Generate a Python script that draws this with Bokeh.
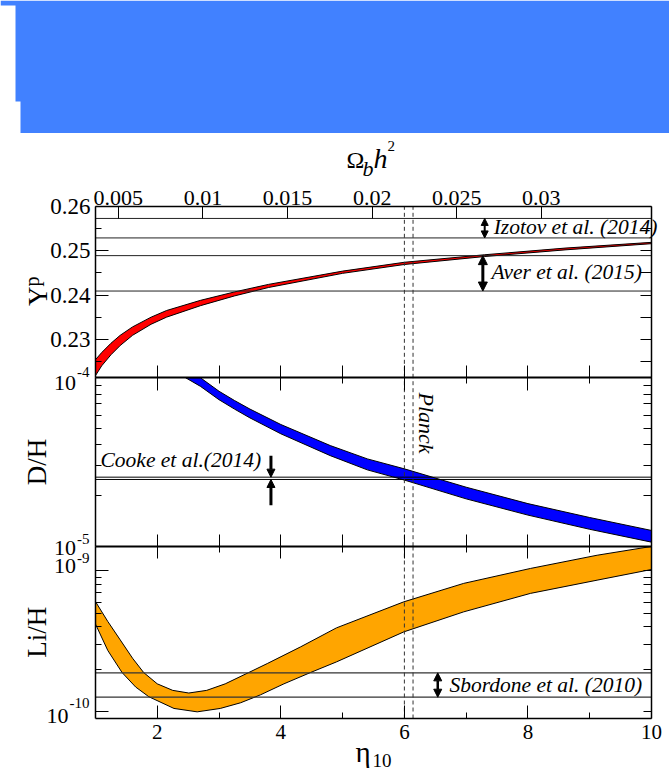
import math

from bokeh.embed import file_html
from bokeh.layouts import column
from bokeh.models import (Arrow, CustomJSTickFormatter, FixedTicker, Label, LinearAxis,
                          LogAxis, LogScale, NormalHead, Range1d)
from bokeh.plotting import figure
from bokeh.resources import INLINE

FONT = "'Liberation Serif', serif"

# ---------------------------------------------------------------- axes / ticks
eta_ticks = [2, 4, 6, 8, 10]
eta_minor = [3, 5, 7, 9]
omega_ticks = [0.005, 0.01, 0.015, 0.02, 0.025, 0.03]
ETA_PER_OMEGA = 273.9          # eta_10 = 273.9 * Omega_b h^2

yp_ticks = [0.23, 0.24, 0.25, 0.26]
yp_minor = [0.225, 0.235, 0.245, 0.255]
dh_ticks = [1e-5, 1e-4]
dh_minor = [2e-5, 3e-5, 4e-5, 5e-5, 6e-5, 7e-5, 8e-5, 9e-5]
li_ticks = [1e-10, 1e-9]
li_minor = [2e-10, 3e-10, 4e-10, 5e-10, 6e-10, 7e-10, 8e-10, 9e-10]

# value range shown by each panel
ETA_SPAN = (1, 10)
YP_PANEL = (0.2213, 0.26)
DH_PANEL = (1e-5, 1e-4)
LI_PANEL = (8.97e-11, 1.496e-9)

# ---------------------------------------------------------------- BBN bands
# He-4 mass fraction
yp_eta = [1.0, 1.1, 1.25, 1.4, 1.6, 1.9, 2.15, 2.7, 3.25, 3.8, 5.0, 6.0, 7.3, 8.6, 10.0]
yp_hi = [0.2254, 0.2270, 0.2291, 0.2309, 0.2328, 0.2350, 0.2365, 0.2388, 0.2407,
         0.2424, 0.2454, 0.2474, 0.2491, 0.2506, 0.2519]
yp_lo = [0.2218, 0.2240, 0.2265, 0.2286, 0.2309, 0.2334, 0.2350, 0.2376, 0.2398,
         0.2417, 0.2449, 0.2469, 0.2487, 0.2502, 0.2516]

# D/H in units of 1e-5
dh_eta_hi = [2.70, 3.0, 3.25, 3.5, 4.0, 4.8, 5.4, 6.0, 7.0, 8.0, 9.0, 10.0]
dh_hi = [10.0, 8.32, 7.33, 6.52, 5.28, 3.96, 3.30, 2.88, 2.24, 1.79, 1.48, 1.24]
dh_eta_lo = [2.46, 2.7, 3.0, 3.25, 3.5, 4.0, 4.8, 5.4, 6.0, 7.0, 8.0, 9.0, 10.0]
dh_lo = [10.0, 8.89, 7.41, 6.52, 5.78, 4.65, 3.45, 2.84, 2.47, 1.91, 1.53, 1.26, 1.057]

# Li-7/H in units of 1e-10
li_eta_hi = [1.0, 1.2, 1.4, 1.6, 1.78, 2.0, 2.25, 2.51, 2.8, 3.1, 3.48, 3.78, 4.32,
             4.9, 5.99, 6.96, 8.04, 9.12, 10.0]
li_hi = [6.05, 4.37, 3.24, 2.40, 1.90, 1.58, 1.42, 1.36, 1.42, 1.58, 1.90, 2.20, 2.89,
         3.94, 6.03, 8.15, 10.40, 12.91, 14.9]
li_eta_lo = [1.0, 1.2, 1.43, 1.65, 1.863, 2.27, 2.646, 3.02, 3.35, 3.67, 4.05, 4.48,
             4.9, 5.99, 6.96, 8.04, 9.12, 10.0]
li_lo = [4.19, 2.72, 1.90, 1.50, 1.28, 1.057, 1.00, 1.057, 1.16, 1.32, 1.58, 1.90,
         2.26, 3.69, 5.12, 6.92, 8.59, 10.23]

# ---------------------------------------------------------------- observations
izotov_yp = [0.2529, 0.2573]
aver_yp = [0.2409, 0.2489]
cooke_dh = [2.49e-5, 2.57e-5]
sbordone_li = [1.27e-10, 1.89e-10]
planck_eta = [6.00, 6.14]

# where the measurement arrows sit along eta
IZOTOV_X, AVER_X, COOKE_X, SBORDONE_X = 7.30, 7.27, 3.84, 6.54
COOKE_FROM = (3.45e-5, 1.75e-5)

# banner shape above the chart (pixel outline)
hdr_x = [0, 669, 669, 20, 20, 15, 15, 0]
hdr_y = [0, 0, 133, 133, 101, 101, 5, 5]

# ---------------------------------------------------------------- layout (pixels)
W, H = 669, 644
BOX_LEFT, BOX_RIGHT = 95, 18           # margins around the stacked panels
BOX_TOP, BOX_BOTTOM = 73, 59
PANEL_PX = (171.3, 168.4, 172.3)       # top, middle, bottom panel heights


def stretch(lo, hi, before, after, total, log=False):
    """Range over the whole canvas so that [lo, hi] covers the given pixel span."""
    a, b = (math.log10(lo), math.log10(hi)) if log else (lo, hi)
    u = (b - a) / (total - before - after)
    s, e = a - before * u, b + after * u
    return Range1d(10 ** s, 10 ** e) if log else Range1d(s, e)


top_px, mid_px, bot_px = PANEL_PX

hdr = figure(width=W, height=133, x_range=Range1d(0, W), y_range=Range1d(133, 0),
             x_axis_location=None, y_axis_location=None, min_border=0,
             output_backend="svg", toolbar_location=None)
hdr.grid.visible = False
hdr.outline_line_color = None
hdr.patch(hdr_x, hdr_y, fill_color="#4181ff", line_color=None)

p = figure(width=W, height=H, min_border=0,
           x_range=stretch(*ETA_SPAN, BOX_LEFT, BOX_RIGHT, W),
           y_range=stretch(*YP_PANEL, BOX_BOTTOM + bot_px + mid_px, BOX_TOP, H),
           x_axis_location=None, y_axis_location=None,
           output_backend="svg", toolbar_location=None)
p.extra_x_ranges = {"omega": stretch(ETA_SPAN[0] / ETA_PER_OMEGA, ETA_SPAN[1] / ETA_PER_OMEGA,
                                     BOX_LEFT, BOX_RIGHT, W)}
p.extra_y_ranges = {
    "dh": stretch(*DH_PANEL, BOX_BOTTOM + bot_px, BOX_TOP + top_px, H, log=True),
    "li": stretch(*LI_PANEL, BOX_BOTTOM, BOX_TOP + top_px + mid_px, H, log=True),
}
p.extra_y_scales = {"dh": LogScale(), "li": LogScale()}
p.grid.visible = False
p.outline_line_color = None
p.background_fill_color = "white"
p.border_fill_color = "white"

plain = CustomJSTickFormatter(code="return tick.toString()")
OMEGA_SPAN = (ETA_SPAN[0] / ETA_PER_OMEGA, ETA_SPAN[1] / ETA_PER_OMEGA)


def axis(cls, side, ticks, minor, t_in, t_out, m_in, m_out, bounds, loc,
         labels=None, width=1.5, **kw):
    ax = cls(ticker=FixedTicker(ticks=ticks, minor_ticks=minor), bounds=bounds,
             fixed_location=loc,
             major_tick_in=t_in, major_tick_out=t_out,
             minor_tick_in=m_in, minor_tick_out=m_out,
             major_tick_line_color="black", minor_tick_line_color="black",
             major_tick_line_width=1, minor_tick_line_width=1,
             axis_line_color="black", axis_line_width=width, **kw)
    if labels:
        size, standoff = labels
        ax.major_label_text_font = FONT
        ax.major_label_text_font_size = size
        ax.major_label_standoff = standoff
        ax.major_label_text_color = "black"
    else:
        ax.major_label_text_color = None
        ax.major_label_standoff = 0
    p.add_layout(ax, side)
    return ax


# outer box: bottom eta axis, top Omega_b h^2 axis, left/right of each panel
axis(LinearAxis, "below", eta_ticks, eta_minor, 13, 0, 6, 0, ETA_SPAN, LI_PANEL[0],
     labels=("21px", 6), y_range_name="li")
axis(LinearAxis, "above", omega_ticks, [], 12, 0, 0, 0, OMEGA_SPAN, YP_PANEL[1],
     labels=("22px", 2), x_range_name="omega", formatter=plain)
axis(LinearAxis, "left", yp_ticks, yp_minor, 13, 0, 6, 0, YP_PANEL, ETA_SPAN[0],
     labels=("23px", 5), formatter=plain)
axis(LinearAxis, "right", yp_ticks, yp_minor, 11, 0, 11, 0, YP_PANEL, ETA_SPAN[1])
axis(LogAxis, "left", dh_ticks, dh_minor, 13, 0, 6, 0, DH_PANEL, ETA_SPAN[0], y_range_name="dh")
axis(LogAxis, "right", dh_ticks, dh_minor, 8, 0, 8, 0, DH_PANEL, ETA_SPAN[1], y_range_name="dh")
axis(LogAxis, "left", li_ticks, li_minor, 13, 0, 6, 0, LI_PANEL, ETA_SPAN[0], y_range_name="li")
axis(LogAxis, "right", li_ticks, li_minor, 8, 0, 8, 0, LI_PANEL, ETA_SPAN[1], y_range_name="li")
# borders between panels, ticked on both sides
axis(LinearAxis, "below", eta_ticks, eta_minor, 12, 13, 12, 6, ETA_SPAN, DH_PANEL[1],
     width=2, y_range_name="dh")
axis(LinearAxis, "below", eta_ticks, eta_minor, 12, 12, 12, 6, ETA_SPAN, DH_PANEL[0],
     width=2, y_range_name="dh")

# bands
p.patch(yp_eta + yp_eta[::-1], yp_hi + yp_lo[::-1],
        fill_color="#ff0000", line_color="black", line_width=1)
p.patch(dh_eta_hi + dh_eta_lo[::-1], [v * 1e-5 for v in dh_hi + dh_lo[::-1]],
        fill_color="#0000ff", line_color="black", line_width=1, y_range_name="dh")
p.patch(li_eta_hi + li_eta_lo[::-1], [v * 1e-10 for v in li_hi + li_lo[::-1]],
        fill_color="#ffa500", line_color="black", line_width=1, y_range_name="li")

# observational bounds, across the full eta span
p.segment(x0=ETA_SPAN[0], x1=ETA_SPAN[1], y0=izotov_yp + aver_yp, y1=izotov_yp + aver_yp,
          line_color="#222222", line_width=1)
p.segment(x0=ETA_SPAN[0], x1=ETA_SPAN[1], y0=cooke_dh, y1=cooke_dh,
          line_color="black", line_width=1, y_range_name="dh")
p.segment(x0=ETA_SPAN[0], x1=ETA_SPAN[1], y0=sbordone_li, y1=sbordone_li,
          line_color="#333333", line_width=1.2, y_range_name="li")
# Planck band edges, through all three panels
for lo_hi, rng in [(YP_PANEL, "default"), (DH_PANEL, "dh"), (LI_PANEL, "li")]:
    p.segment(x0=planck_eta, x1=planck_eta, y0=lo_hi[0], y1=lo_hi[1],
              line_color="#333333", line_width=1, line_dash="4 3", y_range_name=rng)


def head(size):
    return NormalHead(size=size, fill_color="black", line_color="black", line_width=1)


def arrow(x, y0, y1, width, size, both=True, rng="default"):
    p.add_layout(Arrow(x_start=x, y_start=y0, x_end=x, y_end=y1,
                       start=head(size) if both else None, end=head(size),
                       line_color="black", line_width=width, y_range_name=rng))


arrow(IZOTOV_X, izotov_yp[0], izotov_yp[1], 2, 7)
arrow(AVER_X, aver_yp[0], aver_yp[1], 3, 9)
arrow(COOKE_X, COOKE_FROM[0], cooke_dh[1], 3, 8, both=False, rng="dh")
arrow(COOKE_X, COOKE_FROM[1], cooke_dh[0], 3, 8, both=False, rng="dh")
arrow(SBORDONE_X, sbordone_li[0], sbordone_li[1], 2.5, 8, rng="li")


def text(t, x, y, dx=0, dy=0, size="21.5px", style="normal", align="left",
         baseline="alphabetic", angle=0, yr="default"):
    # offsets are given for the glyph baseline; place the text by its middle instead
    if baseline == "alphabetic":
        lift = 0.33 * float(size[:-2])
        if angle == 0:
            dy += lift
        else:
            dx += -lift if angle > 0 else lift
        baseline = "middle"
    p.add_layout(Label(x=x, y=y, x_offset=dx, y_offset=dy, text=t, text_font=FONT,
                       text_font_size=size, text_font_style=style, text_align=align,
                       text_baseline=baseline, angle=angle, text_color="black",
                       y_range_name=yr))


# measurement captions
text("Izotov et al. (2014)", IZOTOV_X, izotov_yp[0], dx=9, dy=3.4, style="italic")
text("Aver et al. (2015)", AVER_X, aver_yp[0], dx=8.6, dy=12.3, style="italic")
text("Cooke et al.(2014)", ETA_SPAN[0], cooke_dh[1], dx=5, dy=9.7, style="italic", yr="dh")
text("Sbordone et al. (2010)", SBORDONE_X, sbordone_li[0], dx=11.7, dy=5.6,
     style="italic", yr="li")
text("Planck", planck_eta[1], DH_PANEL[1], dx=13.3, dy=-14.7, size="22px", style="italic",
     baseline="middle", angle=-math.pi / 2, yr="dh")

# powers of ten on the log panels:
# (value, exponent, dy of "10", dy of exponent, exponent width, range)
for val, ex, dy_b, dy_e, w, rng in [(1e-4, "-4", -12.1, 1.3, 12.5, "dh"),
                                    (1e-5, "-5", -9.3, 2.7, 12.5, "dh"),
                                    (1e-9, "-9", -2.3, 7.7, 12.5, "li"),
                                    (1e-10, "-10", -11.3, 3.7, 20, "li")]:
    text(ex, ETA_SPAN[0], val, dx=-6, dy=dy_e, size="15px", align="right", yr=rng)
    text("10", ETA_SPAN[0], val, dx=-7 - w, dy=dy_b, size="22px", align="right", yr=rng)

# axis titles
MID_ETA = sum(ETA_SPAN) / 2
text("Ω", MID_ETA, YP_PANEL[1], dx=-27, dy=39, size="24px")
text("b", MID_ETA, YP_PANEL[1], dx=-11, dy=31, size="22px", style="italic")
text("h", MID_ETA, YP_PANEL[1], dx=0, dy=39, size="28px", style="italic")
text("2", MID_ETA, YP_PANEL[1], dx=14, dy=56, size="15px")

text("η", MID_ETA, LI_PANEL[0], dx=-18, dy=-43, size="29px", yr="li")
text("10", MID_ETA, LI_PANEL[0], dx=-1, dy=-48, size="19px", yr="li")

text("Y", ETA_SPAN[0], 0.24, dx=-49, dy=-10.9, size="27px", angle=math.pi / 2)
text("p", ETA_SPAN[0], 0.24, dx=-57, dy=8.6, size="20px", angle=math.pi / 2)
text("D/H", ETA_SPAN[0], math.sqrt(DH_PANEL[0] * DH_PANEL[1]), dx=-59, size="27px",
     align="center", baseline="middle", angle=math.pi / 2, yr="dh")
text("Li/H", ETA_SPAN[0], math.sqrt(LI_PANEL[0] * LI_PANEL[1]), dx=-59, size="27px",
     align="center", baseline="middle", angle=math.pi / 2, yr="li")

layout = column(hdr, p)
open("out.html", "w").write(file_html(layout, INLINE))
